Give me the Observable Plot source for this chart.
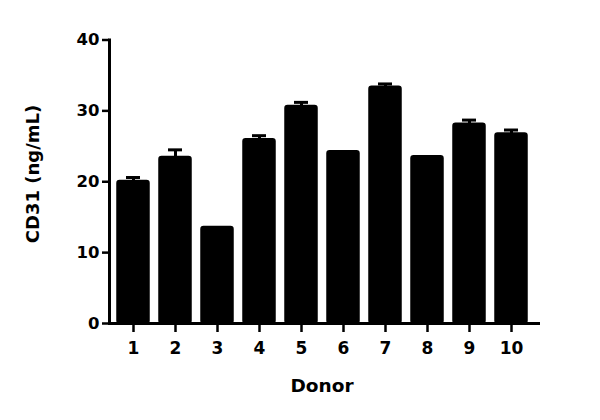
<!DOCTYPE html>
<html>
<head>
<meta charset="utf-8">
<script src="https://cdn.jsdelivr.net/npm/d3@7"></script>
<script src="https://cdn.jsdelivr.net/npm/@observablehq/plot@0.6"></script>
<style>
  html, body { margin: 0; padding: 0; background: #fff; }
  #chart { width: 600px; height: 420px; }
</style>
</head>
<body>
<div id="chart"></div>
<script>
const donors = ["1", "2", "3", "4", "5", "6", "7", "8", "9", "10"];
const means  = [20.1, 23.5, 13.6, 26.0, 30.7, 24.3, 33.4, 23.6, 28.2, 26.8];
const errors = [0.5, 1.0, 0.0, 0.5, 0.5, 0.0, 0.4, 0.0, 0.5, 0.5];
const yTicks = [0, 10, 20, 30, 40];
const xTitle = "Donor";
const yTitle = "CD31 (ng/mL)";

const data = donors.map((d, i) => ({ donor: d, mean: means[i], err: errors[i] }));
const withErr = data.filter(d => d.err > 0);

const font = "'DejaVu Sans', Verdana, sans-serif";

const plot = Plot.plot({
  width: 600,
  height: 420,
  marginLeft: 109,
  marginRight: 62,
  marginTop: 39.5,
  marginBottom: 97,
  style: { fontFamily: font, fontWeight: "bold", background: "#fff", color: "#000" },
  x: { domain: donors, range: [109, 535], paddingInner: 0.25, paddingOuter: 0.125, label: null },
  y: { domain: [0, 40], range: [323, 39.5], label: null },
  marks: [
    Plot.ruleX(withErr, { x: "donor", y1: "mean", y2: d => d.mean + d.err, stroke: "black", strokeWidth: 3 }),
    Plot.tickY(withErr, { x: "donor", y: d => d.mean + d.err, stroke: "black", strokeWidth: 3, insetLeft: 9, insetRight: 9 }),
    Plot.barY(data, { x: "donor", y: "mean", fill: "black", stroke: "black", strokeWidth: 1.5, rx: 2.5 }),
    Plot.axisY({ ticks: yTicks, tickSize: 7, tickPadding: 3, fontSize: 16.5, strokeWidth: 2.5, label: null, tickFormat: d => String(d) }),
    Plot.axisX({ tickSize: 9, tickPadding: 9, fontSize: 17, strokeWidth: 2.5, label: null }),
    Plot.frame({ anchor: "left", strokeWidth: 3, strokeLinecap: "square" }),
    Plot.frame({ anchor: "bottom", strokeWidth: 3, strokeLinecap: "square" })
  ]
});

document.getElementById("chart").appendChild(plot);

const svg = d3.select(plot);
svg.append("text")
  .attr("transform", "translate(39,174) rotate(-90)")
  .attr("text-anchor", "middle")
  .attr("font-family", font)
  .attr("font-weight", "bold")
  .attr("font-size", 18)
  .attr("fill", "#000")
  .text(yTitle);

svg.append("text")
  .attr("x", 322)
  .attr("y", 391.5)
  .attr("text-anchor", "middle")
  .attr("font-family", font)
  .attr("font-weight", "bold")
  .attr("font-size", 18.5)
  .attr("fill", "#000")
  .text(xTitle);
</script>
</body>
</html>
